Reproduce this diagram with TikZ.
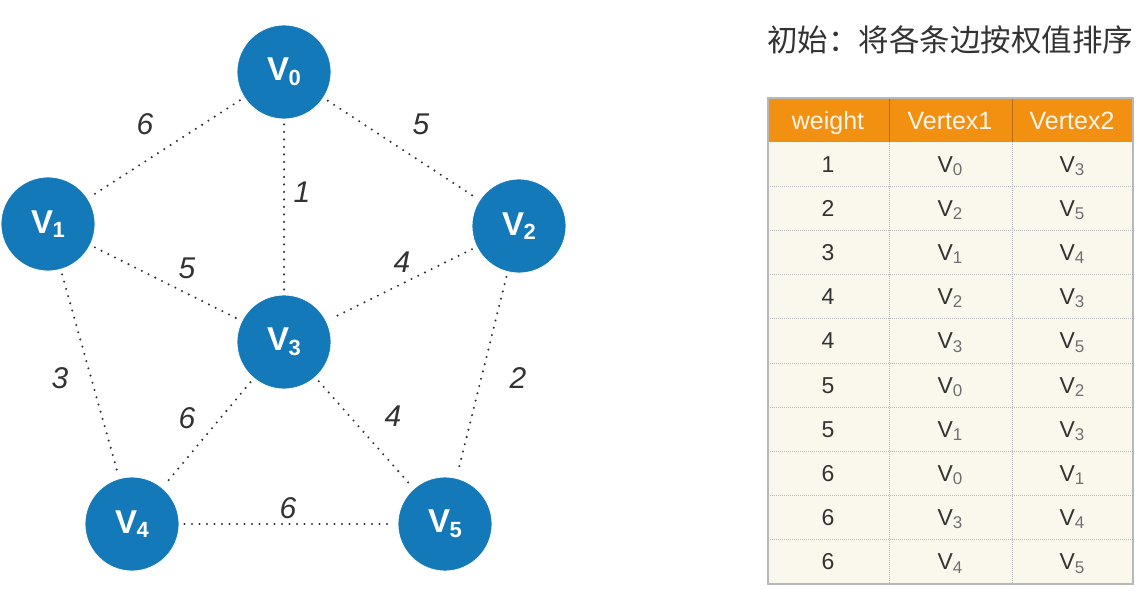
\documentclass[tikz,border=0pt]{standalone}
\usepackage{fontspec}
\setmainfont{Liberation Sans}
\newfontfamily\cjkfont{Noto Sans CJK SC}
\definecolor{nodeblue}{HTML}{1479B8}
\definecolor{headorange}{HTML}{F29111}
\definecolor{cellbg}{HTML}{FAF8EC}
\definecolor{gridgray}{HTML}{B8B8B8}
\definecolor{txtgray}{HTML}{333333}
\definecolor{subgray}{HTML}{707070}
\tikzset{
  vtx/.style={circle, fill=nodeblue, draw=white, line width=0.8pt, minimum size=94pt, inner sep=0pt,
    text=white, font=\bfseries\fontsize{33}{33}\selectfont},
  edge/.style={draw=txtgray, line width=2.3pt, line cap=round, dash pattern=on 0pt off 7.5pt, shorten <=5pt, shorten >=5pt},
  wlabel/.style={text=txtgray, font=\fontsize{30}{30}\selectfont\itshape},
  headtxt/.style={anchor=base, text=white!92!orange, font=\fontsize{25}{25}\selectfont},
  celltxt/.style={anchor=base, text=txtgray, font=\fontsize{23}{23}\selectfont},
}
\newcommand{\vx}[1]{V\kern-0.02em\raisebox{-0.14em}{\fontsize{22}{22}\selectfont #1}}
\newcommand{\cv}[1]{V\raisebox{-0.14em}{\fontsize{17}{17}\selectfont\color{subgray}#1}}
\begin{document}
\begin{tikzpicture}[x=1pt,y=-1pt]
\useasboundingbox (0,0) rectangle (1148,593);
\fill[white] (0,0) rectangle (1148,593);
% vertices
\node[vtx] (v0) at (284,72) {\vx{0}};
\node[vtx] (v1) at (48,224) {\vx{1}};
\node[vtx] (v2) at (519,226) {\vx{2}};
\node[vtx] (v3) at (284,342) {\vx{3}};
\node[vtx] (v4) at (132,524) {\vx{4}};
\node[vtx] (v5) at (445,524) {\vx{5}};
% edges
\draw[edge] (v0) -- (v1);
\draw[edge] (v0) -- (v2);
\draw[edge] (v0) -- (v3);
\draw[edge] (v1) -- (v3);
\draw[edge] (v2) -- (v3);
\draw[edge] (v1) -- (v4);
\draw[edge] (v2) -- (v5);
\draw[edge] (v3) -- (v4);
\draw[edge] (v3) -- (v5);
\draw[edge] (v4) -- (v5);
% weights
\node[wlabel] (w01) at (145,124) {6};
\node[wlabel] (w02) at (421,124) {5};
\node[wlabel] (w03) at (302,192) {1};
\node[wlabel] (w13) at (187,268) {5};
\node[wlabel] (w23) at (402,262) {4};
\node[wlabel] (w14) at (60,378) {3};
\node[wlabel] (w25) at (518,378) {2};
\node[wlabel] (w34) at (187,418) {6};
\node[wlabel] (w35) at (393,416) {4};
\node[wlabel] (w45) at (288,508) {6};
% title
\node[anchor=west, inner sep=0pt, text=txtgray, font=\cjkfont\fontsize{30.5}{30.5}\selectfont] (title) at (767,40) {初始：将各条边按权值排序};
% table
\def\rh{44.2}
\fill[cellbg] (768,142) rectangle (1133,584);
\fill[headorange] (768,98) rectangle (1133,142);
\foreach \i in {1,...,9} {
  \draw[gridgray, line width=0.8pt, dash pattern=on 1pt off 1pt] (768,{142+\i*\rh}) -- (1133,{142+\i*\rh});
}
\draw[gridgray, line width=0.8pt, dash pattern=on 1pt off 1pt] (889,142) -- (889,584);
\draw[gridgray, line width=0.8pt, dash pattern=on 1pt off 1pt] (1012,142) -- (1012,584);
\draw[headorange!75!black, line width=0.6pt] (889,98) -- (889,142);
\draw[headorange!75!black, line width=0.6pt] (1012,98) -- (1012,142);
\draw[gridgray, line width=1.2pt] (768,98) rectangle (1133,584);
\node[headtxt] (h1) at (828,129.5) {weight};
\node[headtxt] (h2) at (950,129.5) {Vertex1};
\node[headtxt] (h3) at (1072,129.5) {Vertex2};
\foreach \w/\a/\b [count=\i from 0] in {1/0/3, 2/2/5, 3/1/4, 4/2/3, 4/3/5, 5/0/2, 5/1/3, 6/0/1, 6/3/4, 6/4/5} {
  \node[celltxt] (r\i w) at (828,{142+(\i+0.5)*\rh+8}) {\w};
  \node[celltxt] (r\i a) at (950,{142+(\i+0.5)*\rh+8}) {\cv{\a}};
  \node[celltxt] (r\i b) at (1072,{142+(\i+0.5)*\rh+8}) {\cv{\b}};
}
\end{tikzpicture}
\end{document}
